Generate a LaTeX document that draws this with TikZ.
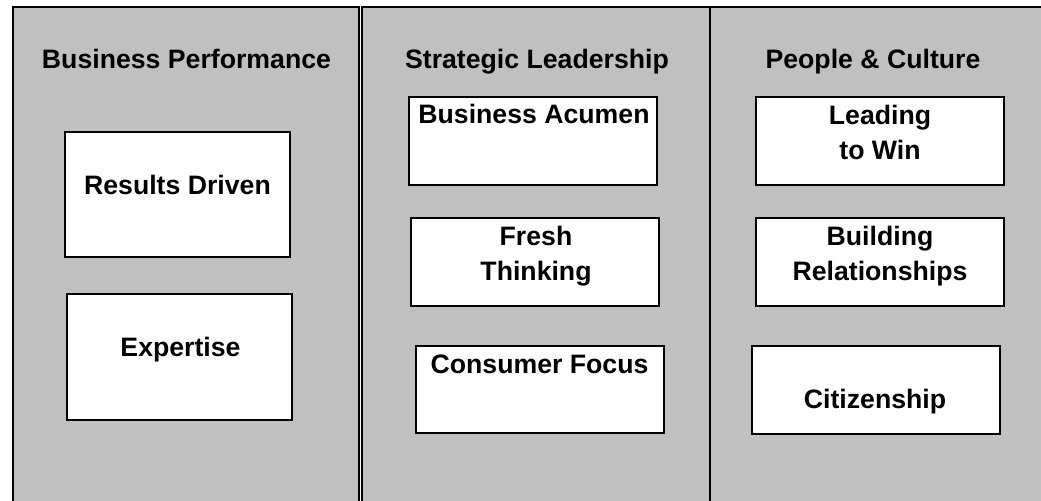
\documentclass[tikz,border=0pt]{standalone}
\usepackage{fontspec}
\setmainfont{Liberation Sans}
\definecolor{panelgray}{HTML}{C0C0C0}
\tikzset{
  panel/.style={fill=panelgray, draw=black, line width=1.5pt},
  cell/.style={draw=black, fill=white, line width=1.5pt, inner sep=0pt,
               minimum width=186pt, minimum height=66pt},
  celltext/.style={anchor=base, align=center, inner sep=0pt,
                   font=\bfseries\fontsize{20}{26.25}\selectfont}
}
\begin{document}
\begin{tikzpicture}[x=0.75pt, y=-0.75pt]
    \useasboundingbox (0,0) rectangle (1041,500);
    \clip (0,0) rectangle (1041,500);

    % Three column panels (open at the bottom)
    \filldraw[panel] (13,7) rectangle (359,530);
    \filldraw[panel] (362,7) rectangle (710,530);
    \filldraw[panel] (710,7) rectangle (1060,530);

    % Column headings
    \node[celltext] (perf-head) at (186.5,68) {Business Performance};
    \node[celltext] (lead-head) at (537,68) {Strategic Leadership};
    \node[celltext] (cult-head) at (873,68) {People \& Culture};

    % Business Performance
    \node[cell, minimum width=168.75pt, minimum height=93.75pt] (results) at (177.5,194.5) {};
    \node[celltext] (results-txt) at (177.5,194) {Results Driven};
    \node[cell, minimum width=168.75pt, minimum height=94.5pt] (expertise) at (179.5,357) {};
    \node[celltext] (expertise-txt) at (180.5,356) {Expertise};

    % Strategic Leadership
    \node[cell] (acumen) at (533,141) {};
    \node[celltext] (acumen-txt) at (534,123) {Business Acumen};
    \node[cell] (fresh) at (535,262) {};
    \node[celltext] (fresh-txt) at (536,280) {Fresh\\Thinking};
    \node[cell, minimum height=65.25pt] (consumer) at (540,389.5) {};
    \node[celltext] (consumer-txt) at (539.5,373) {Consumer Focus};

    % People & Culture
    \node[cell] (leading) at (880,141) {};
    \node[celltext] (leading-txt) at (880,159) {Leading\\to Win};
    \node[cell] (building) at (880,262) {};
    \node[celltext] (building-txt) at (880,280) {Building\\Relationships};
    \node[cell] (citizen) at (876,390) {};
    \node[celltext] (citizen-txt) at (875,408) {Citizenship};
\end{tikzpicture}
\end{document}
